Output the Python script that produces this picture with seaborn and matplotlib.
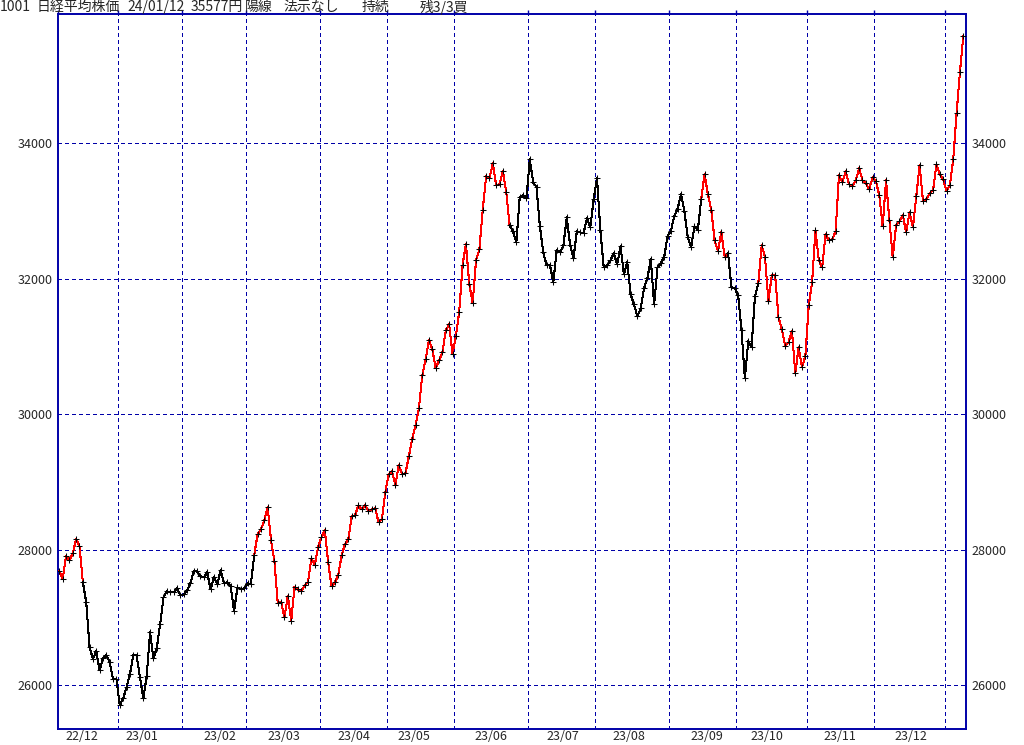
import numpy as np
import pandas as pd
import matplotlib
matplotlib.use("Agg")
import matplotlib.pyplot as plt
import seaborn as sns

# ---------------- data (daily closes) ----------------
months = ["22/12", "23/01", "23/02", "23/03", "23/04", "23/05", "23/06",
          "23/07", "23/08", "23/09", "23/10", "23/11", "23/12", "24/01"]

close_2212 = [27683, 27560, 27904, 27840, 27944, 28150, 28052, 27520, 27225, 26556,
              26384, 26497, 26217, 26399, 26438, 26335, 26084, 26084]
close_2301 = [25700, 25803, 25965, 26157, 26438, 26438, 26113, 25803, 26133, 26777,
              26394, 26546, 26896, 27294, 27383, 27368, 27368, 27427, 27324]
close_2302 = [27338, 27397, 27501, 27678, 27678, 27604, 27589, 27663, 27412, 27589,
              27486, 27693, 27501, 27515, 27456, 27087, 27442, 27412, 27427]
close_2303 = [27501, 27486, 27919, 28224, 28298, 28431, 28623, 28136, 27830, 27206,
              27225, 26999, 27319, 26945, 27452, 27412, 27383, 27471, 27516, 27870,
              27767, 28032]
close_2304 = [28180, 28283, 27811, 27456, 27516, 27619, 27914, 28077, 28150, 28490,
              28505, 28652, 28593, 28652, 28563, 28593, 28608, 28401, 28446, 28844]
close_2305 = [29110, 29154, 28947, 29243, 29110, 29124, 29375, 29626, 29833, 30084,
              30570, 30807, 31087, 30954, 30674, 30792, 30910, 31235, 31323, 30890]
close_2306 = [31146, 31511, 32204, 32504, 31914, 31634, 32268, 32431, 33016, 33508,
              33479, 33700, 33375, 33390, 33582, 33272, 32785, 32696, 32534, 33198,
              33228, 33183]
close_2307 = [33759, 33420, 33346, 32770, 32386, 32194, 32194, 31944, 32416, 32386,
              32490, 32903, 32490, 32298, 32696, 32681, 32667, 32888, 32755, 33169]
close_2308 = [33479, 32711, 32165, 32194, 32268, 32372, 32209, 32475, 32062, 32239,
              31766, 31619, 31442, 31560, 31855, 32010, 32283, 31619, 32165, 32224,
              32323, 32623]
close_2309 = [32706, 32928, 33030, 33248, 32992, 32608, 32460, 32770, 32711, 33169,
              33538, 33243, 33016, 32564, 32401, 32682, 32313, 32372, 31870, 31855]
close_2310 = [31752, 31235, 30527, 31073, 30994, 31737, 31929, 32490, 32313, 31663,
              32047, 32047, 31427, 31250, 30999, 31058, 31230, 30601, 30984, 30689,
              30852]
close_2311 = [31604, 31944, 32711, 32268, 32165, 32652, 32564, 32578, 32696, 33523,
              33420, 33582, 33390, 33360, 33448, 33626, 33448, 33404, 33316, 33493]
close_2312 = [33434, 33227, 32770, 33448, 32858, 32312, 32784, 32843, 32932, 32681,
              32976, 32755, 33212, 33670, 33139, 33168, 33257, 33301, 33685, 33537,
              33463]
close_2401 = [33286, 33375, 33759, 34437, 35052, 35577]

monthly = [close_2212, close_2301, close_2302, close_2303, close_2304, close_2305,
           close_2306, close_2307, close_2308, close_2309, close_2310, close_2311,
           close_2312, close_2401]

# segment colour state (run lengths over consecutive segments): r = red, k = black
state_runs = [("r", 7), ("k", 51), ("r", 76), ("k", 57), ("r", 8), ("k", 9), ("r", 61)]

y_ticks = [26000, 28000, 30000, 32000, 34000]
month_labels = months[:-1]

title_parts = ["1001", "日経平均株価", "24/01/12", "35577円", "陽線", "法示なし", "持続", "残3/3買"]

# ---------------- layout ----------------
W, H = 1024, 745
NAVY = "#0000A8"
RED = "#FF0000"

sns.set_style("white")
plt.rcParams["font.family"] = ["Noto Sans CJK JP", "DejaVu Sans"]

closes = np.concatenate([np.asarray(m, dtype=float) for m in monthly])
idx = np.arange(len(closes))
df = pd.DataFrame({"i": idx, "close": closes})

lens = [len(m) for m in monthly]
bounds = np.cumsum(lens)[:-1] - 0.5          # month boundaries in day-index units

fig = plt.figure(figsize=(W / 100, H / 100), dpi=100)
ax = fig.add_axes([58 / W, 16 / H, 908 / W, 715 / H])

# colored line segments
seg = 0
for state, n in state_runs:
    part = df.iloc[seg:seg + n + 1]
    sns.lineplot(data=part, x="i", y="close", ax=ax, color=RED if state == "r" else "black",
                 linewidth=0.75, sort=False, estimator=None, legend=False, zorder=3,
                 antialiased=False)
    seg += n

# "+" markers at every close
sns.scatterplot(data=df, x="i", y="close", ax=ax, marker="+", color="black",
                s=18, linewidth=0.75, zorder=4, legend=False, antialiased=False)

ax.set_xlim(-0.39, 269.8)
ax.set_ylim(25351, 35904)

# month label positions (day-index) below axis
label_pos = [6.75, 24.6, 47.8, 66.9, 87.7, 105.5, 128.4, 149.8, 169.5, 192.7,
             210.6, 232.3, 253.5]
ax.set_xticks(label_pos)
ax.set_xticklabels(month_labels, fontsize=9)
ax.set_xticks(np.concatenate([[-0.39], bounds]), minor=True)
ax.set_yticks(y_ticks)
ax.set_yticklabels([str(v) for v in y_ticks], fontsize=9)

ax.tick_params(axis="x", which="major", length=0, pad=1, bottom=True, top=False)
ax.tick_params(axis="x", which="minor", length=3, direction="out", top=True,
               bottom=False, color=NAVY, width=1)
ax.tick_params(axis="y", which="major", length=0, pad=4, left=True, right=True,
               labelleft=True, labelright=True)

ax.grid(False)
for b in bounds:
    ax.axvline(b, color=NAVY, linestyle=(0, (4, 3)), linewidth=0.72, zorder=1,
               antialiased=False, snap=True)
for v in y_ticks:
    ax.axhline(v, color=NAVY, linestyle=(0, (4, 3)), linewidth=0.72, zorder=1,
               antialiased=False, snap=True)

for sp in ax.spines.values():
    sp.set_color(NAVY)
    sp.set_linewidth(1.4)
ax.set_xlabel("")
ax.set_ylabel("")

# header text
title_x = [0, 37, 127, 191, 245, 283, 362, 420]
for t, px in zip(title_parts, title_x):
    fig.text(px / W, 1 - 7 / H, t, fontsize=10, va="center", ha="left")

fig.savefig("out.png", dpi=100, facecolor="white")
